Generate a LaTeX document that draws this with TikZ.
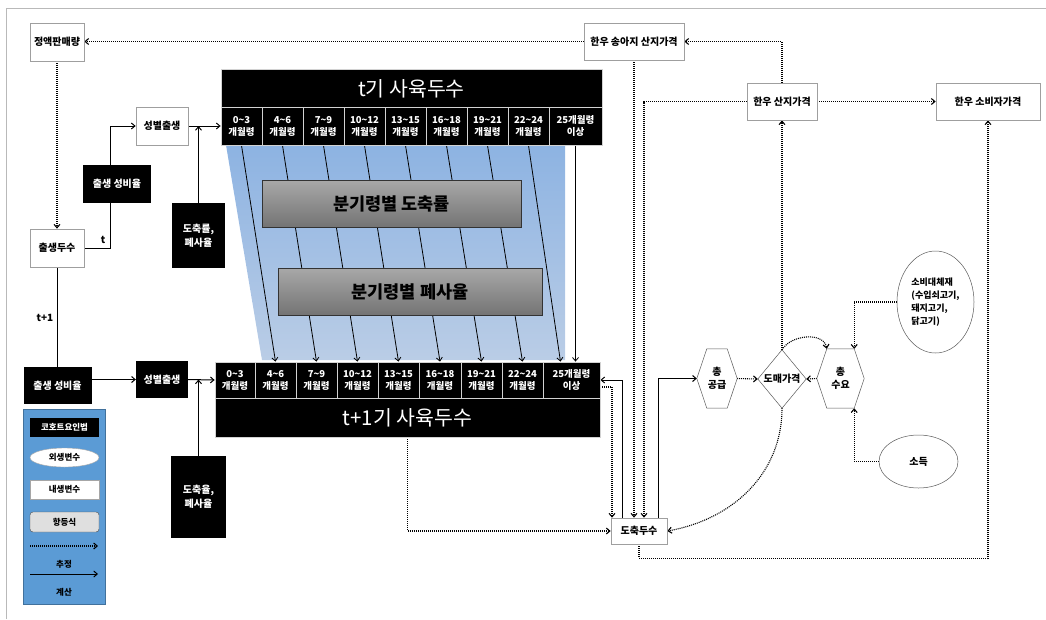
\documentclass[tikz,border=0pt]{standalone}
\usepackage{fontspec}
\newfontfamily\kr{Noto Sans CJK KR}
\usetikzlibrary{arrows.meta,calc,shapes.geometric}
\pgfdeclarelayer{bg}\pgfsetlayers{bg,main}
\definecolor{trtop}{RGB}{141,179,226}
\definecolor{trbot}{RGB}{186,205,230}
\definecolor{gtop}{RGB}{168,168,168}
\definecolor{gbot}{RGB}{116,116,116}
\definecolor{legblue}{RGB}{91,155,213}
\definecolor{legedge}{RGB}{65,113,156}
\newcommand\mytilde{\textasciitilde}
\begin{document}
\begin{tikzpicture}[x=1pt,y=-1pt,
  >={Straight Barb[length=3.5pt,width=6pt]},
  wbox/.style={draw=gray!75, fill=white, line width=0.7pt, inner sep=1pt, align=center, font=\kr\bfseries\fontsize{10}{12}\selectfont},
  bbox/.style={fill=black, text=white, inner sep=1pt, align=center, font=\kr\bfseries\fontsize{10}{14}\selectfont},
  cell/.style={fill=black, draw=gray!35, line width=0.8pt, text=white, inner sep=0pt, align=center, font=\kr\bfseries\fontsize{9.5}{12}\selectfont},
  hdr/.style={fill=black, draw=gray!35, line width=0.8pt, text=white, inner sep=0pt, font=\kr\fontsize{20.5}{22}\selectfont},
  gbox/.style={top color=gtop, bottom color=gbot, draw=gray!40!black, line width=0.6pt, inner sep=0pt, font=\kr\bfseries\fontsize{17.5}{19}\selectfont},
  shp/.style={inner sep=0pt, align=center, font=\kr\bfseries\fontsize{10}{13}\selectfont},
  shpline/.style={draw=gray!70!black, line width=0.5pt},
  lab/.style={inner sep=0pt, font=\kr\bfseries\fontsize{10}{12}\selectfont},
  legf/.style={font=\kr\bfseries\fontsize{8.5}{10}\selectfont},
  conn/.style={line width=1pt},
  arr/.style={conn,->},
  thinarr/.style={line width=0.8pt,->},
  dotl/.style={line width=1.1pt, dash pattern=on 1pt off 1pt},
  darr/.style={dotl,->}]
\useasboundingbox (0,0) rectangle (1046,619);
\draw[gray!55, line width=0.8pt] (6,619) -- (6,8) -- (1046,8);

% top-left nodes
\node[wbox, minimum width=54, minimum height=38] (sales) at (57,42) {정액판매량};
\node[wbox, minimum width=100, minimum height=37] (calf) at (634,41.5) {한우 송아지 산지가격};
\node[wbox, minimum width=70, minimum height=37] (farm) at (782,101.5) {한우 산지가격};
\node[wbox, minimum width=104, minimum height=37] (cons) at (988,101.5) {한우 소비자가격};
\node[wbox, minimum width=52, minimum height=38] (sex1) at (162,126) {성별출생};
\node[bbox, minimum width=68, minimum height=38] (ratio1) at (117,184) {출생 성비율};
\node[wbox, minimum width=54, minimum height=38] (births) at (57,248) {출생두수};
\node[bbox, minimum width=53, minimum height=65] (sr1) at (198.5,235.5) {도축률,\\폐사율};

% top table
\node[hdr, minimum width=381, minimum height=38] (h1) at (411.5,88.5) {t기 사육두수};
\foreach \i/\xa/\xb/\t in {0/221/262/{0\mytilde3\\개월령},1/262/303/{4\mytilde6\\개월령},2/303/344/{7\mytilde9\\개월령},3/344/385/{10\mytilde12\\개월령},4/385/426/{13\mytilde15\\개월령},5/426/467/{16\mytilde18\\개월령},6/467/508/{19\mytilde21\\개월령},7/508/549/{22\mytilde24\\개월령},8/549/602/{25개월령\\이상}}
  \node[cell, minimum width={(\xb-\xa)*1pt}, minimum height=38] (t\i) at ({(\xa+\xb)/2},126) {\t};

% bottom table
\node[hdr, minimum width=385, minimum height=39] (h2) at (407.5,417.5) {t+1기 사육두수};
\foreach \i/\xa/\xb/\t in {0/215/255/{0\mytilde3\\개월령},1/255/296/{4\mytilde6\\개월령},2/296/337/{7\mytilde9\\개월령},3/337/378/{10\mytilde12\\개월령},4/378/419/{13\mytilde15\\개월령},5/419/461/{16\mytilde18\\개월령},6/461/502/{19\mytilde21\\개월령},7/502/543/{22\mytilde24\\개월령},8/543/600/{25개월령\\이상}}
  \node[cell, minimum width={(\xb-\xa)*1pt}, minimum height=36] (b\i) at ({(\xa+\xb)/2},380) {\t};

% gray rate boxes
\node[gbox, minimum width=259, minimum height=47] (g1) at (391.5,203.5) {분기령별 도축률};
\node[gbox, minimum width=264, minimum height=47] (g2) at (410,291.5) {분기령별 폐사율};

% bottom-left nodes
\node[bbox, minimum width=68, minimum height=37] (ratio2) at (57.5,385.5) {출생 성비율};
\node[bbox, minimum width=52, minimum height=37] (sex2) at (162,379.5) {성별출생};
\node[bbox, minimum width=55, minimum height=82] (sr2) at (198.5,497) {도축율,\\폐사율};

% legend
\node[draw=legedge, fill=legblue, minimum width=82, minimum height=195, inner sep=0pt] (leg) at (64,506.5) {};
\node[bbox, legf, minimum width=69, minimum height=19] (lg1) at (64.5,427.5) {코호트요인법};
\node[ellipse, draw=gray!70, fill=white, legf, minimum width=69, minimum height=19, inner sep=0pt] (lg2) at (64.5,457.5) {외생변수};
\node[draw=gray!70, fill=white, legf, minimum width=69, minimum height=19, inner sep=0pt] (lg3) at (64.5,489.5) {내생변수};
\node[draw=gray!60!black, fill=gray!25, rounded corners=3pt, legf, minimum width=69, minimum height=20, inner sep=0pt] (lg4) at (64.5,522) {항등식};
\coordinate (lda) at (30,546); \coordinate (ldb) at (98,546);
\node[legf, inner sep=0pt] (lg5) at (64,564) {추정};
\coordinate (lsa) at (30,574); \coordinate (lsb) at (98,574);
\node[legf, inner sep=0pt] (lg6) at (64,592) {계산};
\draw[darr] (lda) -- (ldb);
\draw[arr] (lsa) -- (lsb);

% right side
\node[wbox, minimum width=56, minimum height=26] (sl) at (639,531) {도축두수};
\node[shp, minimum width=40, minimum height=59] (sup) at (717,378.5) {총\\공급};
\draw[shpline] (sup.west) -- ([xshift=10]sup.north west) -- ([xshift=-10]sup.north east) -- (sup.east) -- ([xshift=-10]sup.south east) -- ([xshift=10]sup.south west) -- cycle;
\node[shp, minimum width=48, minimum height=58] (wp) at (782,379) {도매가격};
\draw[shpline] (wp.north) -- (wp.east) -- (wp.south) -- (wp.west) -- cycle;
\node[shp, minimum width=47, minimum height=59] (dem) at (840.5,378.5) {총\\수요};
\draw[shpline] (dem.west) -- ([xshift=10]dem.north west) -- ([xshift=-10]dem.north east) -- (dem.east) -- ([xshift=-10]dem.south east) -- ([xshift=10]dem.south west) -- cycle;
\node[ellipse, shpline, fill=white, minimum width=77, minimum height=102, inner sep=0pt, align=left, font=\kr\bfseries\fontsize{9}{13}\selectfont] (sub) at (935.5,302) {소비대체재\\(수입쇠고기,\\돼지고기,\\닭고기)};
\node[ellipse, shpline, fill=white, minimum width=79, minimum height=53, inner sep=0pt, font=\kr\bfseries\fontsize{10}{12}\selectfont] (inc) at (918.5,461.5) {소득};

\begin{pgfonlayer}{bg}
\shade[top color=trtop, bottom color=trbot] (226,145) -- (565,145) -- (565,360) -- (262,360) -- cycle;
\foreach \i/\j in {0/1,1/2,2/3,3/4,4/5,5/6,6/7}
  \draw[thinarr] (t\i.south) -- (b\j.north);
\draw[thinarr] (t7.south) -- ([xshift=-11]b8.north);
\draw[thinarr] (t8.south) -- (t8.south |- b8.north);

\draw[darr] (calf.west) -- (calf.west -| sales.east);
\draw[darr] (sales.south) -- (births.north);
\draw[arr] (births.east) -- ++(26,0) |- (sex1.west);
\draw[arr] (sex1.east) -- (t0.west);
\draw[arr] (sr1.north) -- (sr1.north |- sex1.east);
\draw[conn] (births.south) -- (births.south |- ratio2.north);
\draw[arr] (ratio2.east |- sex2.west) -- (sex2.west);
\draw[arr] (sex2.east) -- (b0.west);
\draw[arr] (sr2.north) -- (sr2.north |- sex2.east);

\draw[darr] (calf.south) -- (calf.south |- sl.north);
\draw[darr] (farm.west) -| ([xshift=5]sl.north);
\draw[darr] (farm.north) |- (calf.east);
\draw[darr] (farm.east) -- (cons.west);
\draw[darr] (sl.south) -- ++(0,14) -| (cons.south);
\draw[darr] (wp.north) to[out=60,in=100] ([xshift=10]dem.north west);
\draw[darr] (wp.north) -- (farm.south);
\draw[darr] (sup.east) -- (wp.west);
\draw[darr] (dem.west) -- (wp.east);
\draw[darr] (sub.west) -| ([xshift=-10]dem.north east);
\draw[darr] (inc.west) -| ([xshift=-10]dem.south east);
\draw[darr] (wp.south) to[out=-90,in=10] (sl.east);
\draw[arr] ([xshift=19]sl.north) |- (sup.west);
\draw[arr] ([xshift=-17]sl.north) |- (b8.east);
\draw[darr] ([yshift=-7]b8.east) -| ([xshift=-27]sl.north);
\draw[darr] (h2.south) |- (sl.west);
\end{pgfonlayer}

\node[lab] (tl) at (103,240) {t};
\node[lab] (t1l) at (45,318) {t+1};
\end{tikzpicture}
\end{document}
